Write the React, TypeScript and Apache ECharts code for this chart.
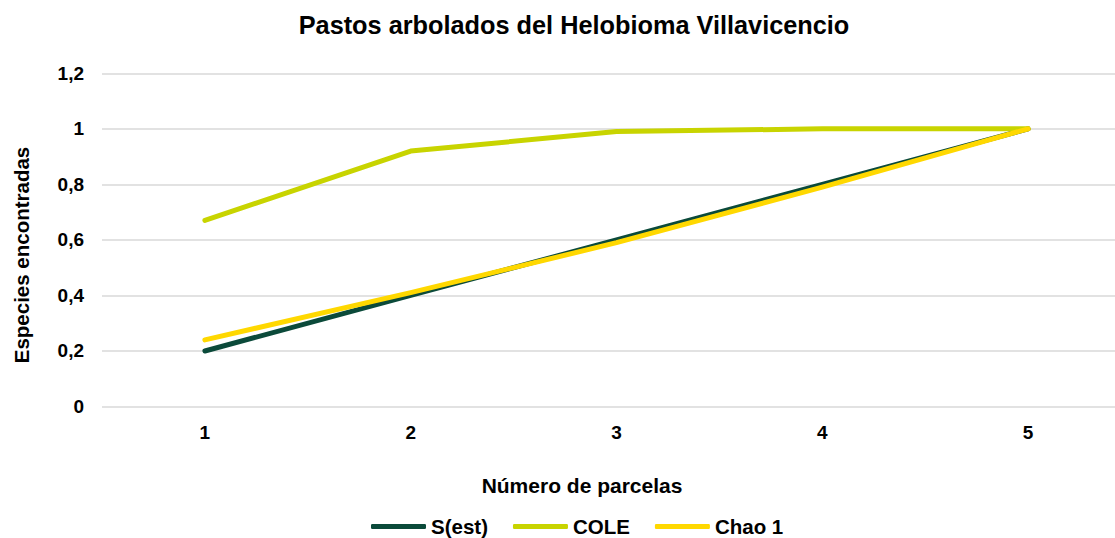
import React, { useEffect, useRef } from "react";
import * as echarts from "echarts";

const categories = ["1", "2", "3", "4", "5"];
const sEst = [0.2, 0.4, 0.6, 0.8, 1.0];
const cole = [0.67, 0.92, 0.99, 1.0, 1.0];
const chao1 = [0.24, 0.41, 0.59, 0.79, 1.0];
const seriesNames = ["S(est)", "COLE", "Chao 1"];
const colors = ["#0b4a3a", "#c8d400", "#ffd800"];
const titleText = "Pastos arbolados del Helobioma Villavicencio";
const xName = "Número de parcelas";
const yName = "Especies encontradas";

const FONT = "'Liberation Sans', Arial, sans-serif";

export default function App() {
  const ref = useRef<HTMLDivElement>(null);
  useEffect(() => {
    if (!ref.current) return;
    const chart = echarts.init(ref.current, null, { renderer: "svg" });
    const values = [sEst, cole, chao1];
    chart.setOption({
      animation: false,
      backgroundColor: "#ffffff",
      textStyle: { fontFamily: FONT },
      title: {
        text: titleText,
        left: 569,
        top: 7,
        textAlign: "center",
        textStyle: { fontFamily: FONT, fontSize: 25.3, fontWeight: "bold", color: "#000" },
      },
      grid: { left: 102, right: 19, top: 73.3, bottom: 131.5, containLabel: false },
      legend: {
        left: 366,
        top: 511,
        itemWidth: 55,
        itemHeight: 5,
        itemGap: 25,
        icon: "roundRect",
        data: seriesNames,
        textStyle: { fontFamily: FONT, fontSize: 20.5, fontWeight: "bold", color: "#000" },
      },
      xAxis: {
        type: "category",
        data: categories,
        boundaryGap: true,
        axisLine: { show: false },
        axisTick: { show: false },
        axisLabel: { margin: 16, fontFamily: FONT, fontSize: 19, fontWeight: "bold", color: "#000" },
        splitLine: { show: false },
      },
      yAxis: {
        type: "value",
        min: 0,
        max: 1.2,
        interval: 0.2,
        axisLine: { show: false },
        axisTick: { show: false },
        axisLabel: {
          margin: 18,
          fontFamily: FONT,
          fontSize: 19,
          fontWeight: "bold",
          color: "#000",
          formatter: (v: number) => (Math.round(v * 10) / 10).toString().replace(".", ","),
        },
        splitLine: { lineStyle: { color: "#d9d9d9", width: 1.5 } },
      },
      graphic: [
        {
          type: "text",
          x: 582,
          y: 485,
          style: {
            text: xName,
            fontFamily: FONT,
            fontSize: 21,
            fontWeight: "bold",
            fill: "#000",
            textAlign: "center",
            textVerticalAlign: "middle",
          },
        },
        {
          type: "text",
          x: 21,
          y: 255,
          rotation: Math.PI / 2,
          style: {
            text: yName,
            fontFamily: FONT,
            fontSize: 20.5,
            fontWeight: "bold",
            fill: "#000",
            textAlign: "center",
            textVerticalAlign: "middle",
          },
        },
      ],
      series: seriesNames.map((name, i) => ({
        name,
        type: "line",
        data: values[i],
        symbol: "none",
        color: colors[i],
        lineStyle: { width: 5, color: colors[i], cap: "round", join: "round" },
        itemStyle: { color: colors[i] },
      })),
    });
    return () => chart.dispose();
  }, []);
  return (
    <div
      style={{
        position: "absolute",
        left: 0,
        top: 0,
        width: 1115,
        height: 538,
        overflow: "hidden",
        background: "#fff",
      }}
    >
      <div ref={ref} style={{ width: 1150, height: 538 }} />
    </div>
  );
}
